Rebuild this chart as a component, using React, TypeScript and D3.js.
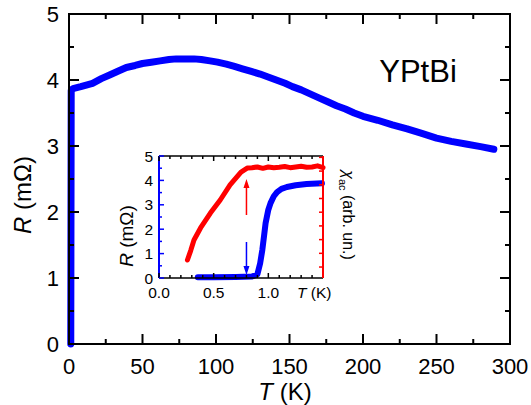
import React from "react";
import * as d3 from "d3";

// Main curve: R (mΩ) vs T (K)
const mainT = [1.2, 1.5, 2.7, 8, 16, 22, 28, 34, 39, 45, 50, 56, 62, 68, 73, 79, 85, 90, 96, 101, 107, 112, 118, 124, 130, 135, 141, 147, 152, 158, 164, 170, 176, 182, 188, 194, 200, 210, 220, 230, 240, 250, 260, 270, 280, 289];
const mainR = [0, 3.84, 3.87, 3.9, 3.95, 4.02, 4.08, 4.14, 4.19, 4.22, 4.25, 4.27, 4.29, 4.31, 4.32, 4.32, 4.32, 4.31, 4.29, 4.27, 4.24, 4.21, 4.17, 4.13, 4.09, 4.05, 4.0, 3.95, 3.9, 3.85, 3.79, 3.73, 3.67, 3.61, 3.56, 3.5, 3.45, 3.39, 3.32, 3.26, 3.19, 3.12, 3.07, 3.03, 2.99, 2.95];

// Inset: R (blue) vs T
const insetRT = [0.355, 0.5, 0.7, 0.85, 0.9, 0.925, 0.945, 0.96, 0.975, 1.0, 1.02, 1.05, 1.08, 1.12, 1.17, 1.25, 1.35, 1.49];
const insetR = [0.03, 0.03, 0.04, 0.06, 0.15, 0.6, 1.15, 1.7, 2.25, 2.8, 3.07, 3.35, 3.52, 3.65, 3.73, 3.8, 3.85, 3.88];

// Inset: chi_ac (red) vs T, arbitrary units
const chiT = [0.26, 0.29, 0.32, 0.38, 0.47, 0.56, 0.65, 0.75, 0.81, 0.85, 0.9, 0.95, 1.0, 1.05, 1.1, 1.15, 1.2, 1.25, 1.3, 1.35, 1.4, 1.45, 1.5];
const chiV = [0.51, 1.2, 1.97, 2.85, 3.94, 4.89, 5.99, 6.93, 7.23, 7.25, 7.3, 7.2, 7.3, 7.25, 7.28, 7.33, 7.25, 7.3, 7.35, 7.28, 7.3, 7.38, 7.25];

const mainXTicks = [0, 50, 100, 150, 200, 250, 300];
const mainYTicks = [0, 1, 2, 3, 4, 5];
const insetXTicks = [0, 0.5, 1.0];
const insetXTickLabels = ["0.0", "0.5", "1.0"];
const insetYTicks = [0, 1, 2, 3, 4, 5];
const arrowT = 0.8;

const FONT = "'Liberation Sans', Arial, sans-serif";
const BLUE = "#0000ff";
const RED = "#ff0000";

export default function App() {
  const x = d3.scaleLinear().domain([0, 300]).range([69, 510]);
  const y = d3.scaleLinear().domain([0, 5]).range([344, 14]);

  const ix = d3.scaleLinear().domain([0, 1.5]).range([159, 323]);
  const iy = d3.scaleLinear().domain([0, 5]).range([278, 156]);
  const ic = d3.scaleLinear().domain([-0.8, 8.1]).range([278, 156]);

  const mainLine = d3.line<number>().x((_, i) => x(mainT[i])).y((d) => y(d));
  const blueLine = d3.line<number>().x((_, i) => ix(insetRT[i])).y((d) => iy(d));
  const redLine = d3.line<number>().x((_, i) => ix(chiT[i])).y((d) => ic(d));

  const mainXMinor = d3.range(0, 301, 25).filter((v) => v % 50 !== 0);
  const mainYMinor = d3.range(0.5, 5, 1);
  const insetXMinor = d3.range(0, 1.51, 0.1).filter((v) => Math.abs(v * 2 - Math.round(v * 2)) > 0.01);
  const insetYMinor = d3.range(0.5, 5, 1);
  const chiTicks = d3.range(0, 9, 1);

  const [x0, x1] = x.range();
  const [y0, y1] = y.range();
  const [ix0, ix1] = ix.range();
  const [iy0, iy1] = iy.range();

  return (
    <svg width={531} height={405} style={{ position: "absolute", left: 0, top: 0, background: "#fff" }} fontFamily={FONT}>
      <rect x={0} y={0} width={531} height={405} fill="#fff" />
      {/* Main curve */}
      <path d={mainLine(mainR) || ""} fill="none" stroke={BLUE} strokeWidth={7} strokeLinejoin="round" strokeLinecap="round" />

      {/* Main frame */}
      <rect x={x0} y={y1} width={x1 - x0} height={y0 - y1} fill="none" stroke="#000" strokeWidth={2} />
      {mainXTicks.map((t) => (
        <g key={"mx" + t}>
          <line x1={x(t)} x2={x(t)} y1={y0} y2={y0 - 10} stroke="#000" strokeWidth={2} />
          <line x1={x(t)} x2={x(t)} y1={y1} y2={y1 + 10} stroke="#000" strokeWidth={2} />
          <text x={x(t)} y={y0 + 30} fontSize={22} textAnchor="middle" fill="#000">{t}</text>
        </g>
      ))}
      {mainXMinor.map((t) => (
        <g key={"mxm" + t}>
          <line x1={x(t)} x2={x(t)} y1={y0} y2={y0 - 5} stroke="#000" strokeWidth={2} />
          <line x1={x(t)} x2={x(t)} y1={y1} y2={y1 + 5} stroke="#000" strokeWidth={2} />
        </g>
      ))}
      {mainYTicks.map((t) => (
        <g key={"my" + t}>
          <line x1={x0} x2={x0 + 10} y1={y(t)} y2={y(t)} stroke="#000" strokeWidth={2} />
          <line x1={x1} x2={x1 - 10} y1={y(t)} y2={y(t)} stroke="#000" strokeWidth={2} />
          <text x={x0 - 10} y={y(t) + 8} fontSize={22} textAnchor="end" fill="#000">{t}</text>
        </g>
      ))}
      {mainYMinor.map((t) => (
        <g key={"mym" + t}>
          <line x1={x0} x2={x0 + 5} y1={y(t)} y2={y(t)} stroke="#000" strokeWidth={2} />
          <line x1={x1} x2={x1 - 5} y1={y(t)} y2={y(t)} stroke="#000" strokeWidth={2} />
        </g>
      ))}
      <text x={285} y={400} fontSize={24} textAnchor="middle" fill="#000">
        <tspan fontStyle="italic">T</tspan> (K)
      </text>
      <text transform={`translate(31,195) rotate(-90)`} fontSize={24} textAnchor="middle" fill="#000">
        <tspan fontStyle="italic">R</tspan> (mΩ)
      </text>
      <text x={418} y={82} fontSize={31} textAnchor="middle" fill="#000">YPtBi</text>

      {/* Inset */}
      <rect x={ix0} y={iy1} width={ix1 - ix0} height={iy0 - iy1} fill="#fff" />
      <path d={redLine(chiV) || ""} fill="none" stroke={RED} strokeWidth={5} strokeLinejoin="round" strokeLinecap="round" />
      <path d={blueLine(insetR) || ""} fill="none" stroke={BLUE} strokeWidth={6} strokeLinejoin="round" strokeLinecap="round" />

      {/* Arrows */}
      <line x1={ix(arrowT)} x2={ix(arrowT)} y1={215} y2={186} stroke={RED} strokeWidth={1.5} />
      <path d={`M${ix(arrowT)},179 L${ix(arrowT) - 3},188 L${ix(arrowT) + 3},188 Z`} fill={RED} />
      <line x1={ix(arrowT)} x2={ix(arrowT)} y1={242} y2={268} stroke={BLUE} strokeWidth={1.5} />
      <path d={`M${ix(arrowT)},275 L${ix(arrowT) - 3},266 L${ix(arrowT) + 3},266 Z`} fill={BLUE} />

      {/* Inset frame */}
      <line x1={ix0} x2={ix1} y1={iy0} y2={iy0} stroke="#000" strokeWidth={1.5} />
      <line x1={ix0} x2={ix1} y1={iy1} y2={iy1} stroke="#000" strokeWidth={1.5} />
      <line x1={ix0} x2={ix0} y1={iy1} y2={iy0} stroke={BLUE} strokeWidth={2} />
      <line x1={ix1} x2={ix1} y1={iy1} y2={iy0} stroke={RED} strokeWidth={2} />
      {insetXTicks.map((t, i) => (
        <g key={"ix" + t}>
          <line x1={ix(t)} x2={ix(t)} y1={iy0} y2={iy0 - 5} stroke="#000" strokeWidth={1.5} />
          <line x1={ix(t)} x2={ix(t)} y1={iy1} y2={iy1 + 5} stroke="#000" strokeWidth={1.5} />
          <text x={ix(t)} y={iy0 + 20} fontSize={15.5} textAnchor="middle" fill="#000">{insetXTickLabels[i]}</text>
        </g>
      ))}
      {insetXMinor.map((t) => (
        <g key={"ixm" + t}>
          <line x1={ix(t)} x2={ix(t)} y1={iy0} y2={iy0 - 3} stroke="#000" strokeWidth={1.5} />
          <line x1={ix(t)} x2={ix(t)} y1={iy1} y2={iy1 + 3} stroke="#000" strokeWidth={1.5} />
        </g>
      ))}
      {insetYTicks.map((t) => (
        <g key={"iy" + t}>
          <line x1={ix0} x2={ix0 + 5} y1={iy(t)} y2={iy(t)} stroke={BLUE} strokeWidth={1.5} />
          <text x={ix0 - 6} y={iy(t) + 5.5} fontSize={15.5} textAnchor="end" fill="#000">{t}</text>
        </g>
      ))}
      {insetYMinor.map((t) => (
        <line key={"iym" + t} x1={ix0} x2={ix0 + 3} y1={iy(t)} y2={iy(t)} stroke={BLUE} strokeWidth={1.5} />
      ))}
      {chiTicks.map((t) => (
        <line key={"ic" + t} x1={ix1} x2={ix1 - 4} y1={ic(t)} y2={ic(t)} stroke={RED} strokeWidth={1.5} />
      ))}
      <text x={297} y={iy0 + 20} fontSize={15.5} fill="#000">
        <tspan fontStyle="italic">T</tspan> (K)
      </text>
      <text transform={`translate(133,236) rotate(-90)`} fontSize={19} textAnchor="middle" fill="#000">
        <tspan fontStyle="italic">R</tspan> (mΩ)
      </text>
      <text transform={`translate(343,215) rotate(90)`} fontSize={16} textAnchor="middle" fill="#000">
        <tspan fontStyle="italic">χ</tspan>
        <tspan fontSize={11} dy={4}>ac</tspan>
        <tspan dy={-4}> (arb. un.)</tspan>
      </text>
    </svg>
  );
}
